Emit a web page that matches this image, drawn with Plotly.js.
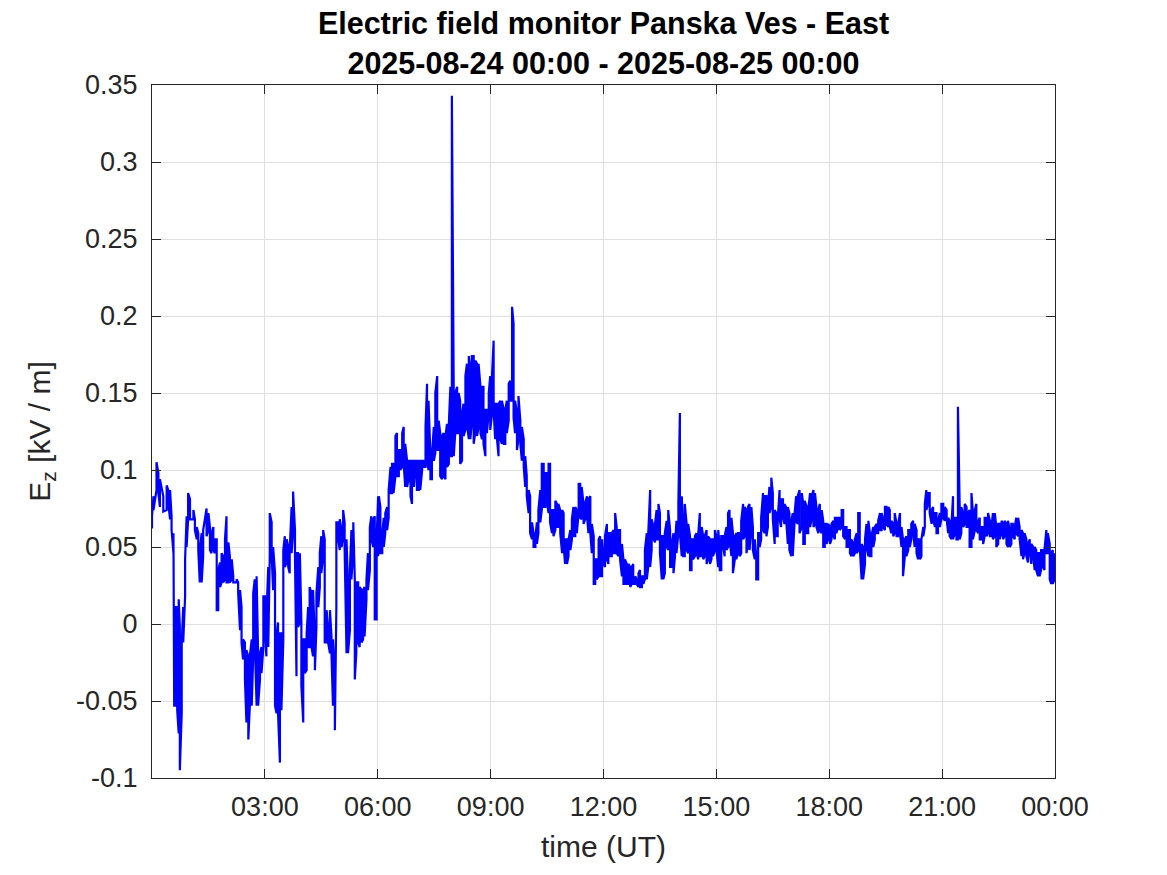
<!DOCTYPE html>
<html>
<head>
<meta charset="utf-8">
<script src="https://cdn.plot.ly/plotly-3.0.1.min.js"></script>
<style>html,body{margin:0;padding:0;background:#fff}#chart{width:1167px;height:875px}</style>
</head>
<body>
<div id="chart"></div>
<script>
// Time of day (hours UT) of each reading column
const hours = [0.00,0.04,0.12,0.17,0.21,0.30,0.39,0.43,0.48,0.52,0.57,0.59,0.63,0.67,0.71,0.74,0.79,0.83,0.88,0.92,0.96,1.01,1.10,1.14,1.19,1.23,1.27,1.32,1.36,1.45,1.50,1.54,1.58,1.63,1.67,1.72,1.76,1.81,1.85,1.89,1.94,1.98,2.03,2.07,2.12,2.16,2.25,2.29,2.34,2.38,2.42,2.47,2.51,2.56,2.60,2.65,2.69,2.73,2.78,2.82,2.87,2.91,2.96,3.00,3.04,3.09,3.13,3.18,3.22,3.27,3.31,3.35,3.40,3.44,3.49,3.53,3.58,3.62,3.66,3.71,3.75,3.80,3.84,3.88,3.93,3.97,4.02,4.06,4.11,4.15,4.19,4.24,4.28,4.33,4.37,4.42,4.46,4.50,4.55,4.59,4.64,4.68,4.73,4.77,4.81,4.86,4.90,4.95,4.99,5.04,5.08,5.12,5.17,5.21,5.26,5.30,5.35,5.39,5.43,5.48,5.52,5.57,5.61,5.65,5.70,5.74,5.79,5.83,5.88,5.92,5.97,6.01,
6.03,6.07,6.12,6.16,6.20,6.25,6.29,6.34,6.38,6.42,6.47,6.51,6.56,6.60,6.65,6.69,6.73,6.78,6.82,6.87,6.91,6.96,7.00,7.04,7.09,7.13,7.18,7.22,7.27,7.31,7.35,7.40,7.44,7.49,7.53,7.58,7.62,7.66,7.71,7.75,7.80,7.84,7.89,7.93,7.97,8.02,8.06,8.11,8.15,8.19,8.24,8.28,8.33,8.37,8.42,8.46,8.50,8.55,8.59,8.64,8.68,8.73,8.77,8.81,8.86,8.90,8.95,8.99,9.04,9.08,9.12,9.17,9.21,9.26,9.30,9.35,9.39,9.43,9.48,9.52,9.57,9.61,9.65,9.70,9.74,9.79,9.83,9.88,9.92,9.96,10.01,10.05,10.10,10.14,10.19,10.23,10.27,10.32,10.36,10.41,10.45,10.50,10.54,10.58,10.63,10.67,10.72,10.76,10.80,10.85,
10.90,10.94,10.98,11.03,11.07,11.12,11.16,11.20,11.25,11.29,11.34,11.38,11.42,11.47,11.51,11.56,11.60,11.65,11.69,11.74,11.78,11.82,11.87,11.91,11.96,12.00,12.04,12.09,12.13,12.18,12.22,12.27,12.31,12.35,12.40,12.44,12.49,12.53,12.57,12.62,12.66,12.71,12.75,12.79,12.84,12.88,12.93,12.97,13.02,13.06,13.10,13.15,13.19,13.24,13.28,13.33,13.37,13.41,13.46,13.50,13.55,13.59,13.63,13.68,13.72,13.77,13.81,13.86,13.90,13.94,13.99,14.03,14.08,14.12,14.16,14.21,14.25,14.30,14.34,14.38,14.43,14.47,14.52,14.56,14.61,14.65,14.69,14.74,14.78,14.83,14.87,14.91,14.96,15.00,15.05,15.09,15.13,15.18,15.22,15.27,15.31,15.35,15.40,15.44,15.49,15.53,15.57,15.62,15.66,15.71,15.75,15.80,15.84,15.88,15.93,15.97,16.02,16.06,16.11,16.15,16.19,16.24,16.28,16.33,16.37,16.41,16.46,16.50,16.55,16.59,16.63,16.68,16.72,16.77,16.81,16.85,16.90,16.94,16.99,17.03,17.08,17.12,17.16,17.21,
17.27,17.31,17.35,17.40,17.44,17.49,17.53,17.58,17.62,17.66,17.71,17.75,17.80,17.84,17.88,17.93,17.97,18.02,18.06,18.11,18.15,18.19,18.24,18.28,18.33,18.37,18.42,18.46,18.50,18.55,18.59,18.64,18.68,18.73,18.77,18.81,18.86,18.90,18.95,18.99,19.04,19.08,19.12,19.17,19.21,19.26,19.30,19.35,19.39,19.43,19.48,19.52,19.57,19.61,19.65,19.70,19.74,19.79,19.83,19.88,19.92,19.96,20.01,20.05,20.10,20.14,20.18,20.23,20.27,20.32,20.36,20.41,20.45,20.50,20.54,20.58,20.63,20.67,20.72,20.76,20.81,20.85,20.89,20.94,20.98,21.03,21.07,21.12,21.16,21.20,21.25,21.29,21.34,21.38,21.42,21.47,21.51,21.56,21.60,21.65,21.69,21.73,21.78,21.82,21.87,21.91,21.96,22.00,22.04,22.09,22.13,22.18,22.22,22.27,22.31,22.35,22.40,22.44,22.49,22.53,22.58,22.62,22.66,22.71,22.75,22.80,22.84,22.88,22.93,22.97,23.02,23.06,23.11,23.15,23.19,23.24,23.28,23.33,23.37,23.42,23.46,23.50,23.55,23.59,23.63,23.68,23.72,23.77,23.81,23.86,23.90,23.94,23.99];

// Lowest Ez reading in each column (kV/m)
const eLow = [0.062,0.074,0.087,0.085,0.076,0.073,0.074,0.079,0.068,0.061,0.046,-0.053,-0.053,-0.056,-0.071,-0.095,-0.058,-0.012,0.018,0.050,0.068,0.068,0.068,0.061,0.055,0.048,0.027,0.027,0.044,0.057,0.061,0.048,0.046,0.048,0.046,0.009,0.009,0.024,0.027,0.027,0.029,0.027,0.027,0.027,0.029,0.027,0.027,0.020,-0.004,-0.012,-0.023,-0.036,-0.064,-0.075,-0.053,-0.053,-0.021,-0.010,-0.053,-0.053,-0.036,-0.032,-0.015,-0.002,-0.021,-0.015,0.044,0.044,0.022,-0.053,-0.058,-0.058,-0.090,-0.056,-0.010,0.037,0.040,0.037,0.033,0.046,0.059,0.044,-0.034,-0.002,0.001,-0.040,-0.064,-0.032,-0.030,-0.015,-0.015,-0.015,-0.021,-0.030,-0.002,0.011,0.024,0.033,0.044,-0.012,-0.012,-0.012,-0.019,-0.019,-0.053,-0.069,0.011,0.055,0.048,0.050,0.057,0.048,-0.019,-0.019,-0.004,0.029,0.048,-0.036,-0.019,-0.012,-0.015,-0.012,-0.010,-0.008,0.016,0.022,0.035,0.055,0.050,0.003,0.003,0.044,
0.044,0.046,0.046,0.050,0.059,0.061,0.069,0.085,0.085,0.085,0.096,0.096,0.096,0.100,0.102,0.104,0.089,0.089,0.094,0.083,0.078,0.089,0.100,0.087,0.087,0.087,0.100,0.102,0.102,0.106,0.100,0.094,0.094,0.106,0.111,0.113,0.113,0.096,0.094,0.096,0.094,0.102,0.104,0.109,0.109,0.109,0.124,0.124,0.124,0.104,0.106,0.122,0.126,0.130,0.120,0.120,0.130,0.117,0.124,0.122,0.128,0.124,0.120,0.117,0.109,0.124,0.137,0.126,0.137,0.139,0.120,0.120,0.109,0.120,0.117,0.117,0.117,0.124,0.132,0.145,0.145,0.134,0.124,0.113,0.120,0.117,0.106,0.102,0.089,0.083,0.072,0.059,0.055,0.050,0.050,0.052,0.059,0.066,0.074,0.076,0.076,0.078,0.072,0.066,0.059,0.057,0.061,0.063,0.063,0.059,
0.046,0.050,0.039,0.039,0.044,0.048,0.055,0.057,0.057,0.059,0.072,0.069,0.068,0.065,0.068,0.070,0.059,0.059,0.046,0.026,0.026,0.029,0.031,0.031,0.031,0.039,0.037,0.042,0.039,0.044,0.044,0.046,0.046,0.046,0.044,0.042,0.031,0.026,0.026,0.026,0.026,0.024,0.026,0.026,0.026,0.026,0.024,0.024,0.024,0.026,0.029,0.029,0.037,0.037,0.048,0.055,0.053,0.055,0.055,0.046,0.029,0.029,0.033,0.050,0.048,0.037,0.037,0.033,0.044,0.046,0.059,0.059,0.044,0.044,0.044,0.048,0.046,0.035,0.035,0.042,0.044,0.046,0.042,0.044,0.044,0.042,0.044,0.039,0.042,0.039,0.042,0.044,0.048,0.048,0.037,0.035,0.035,0.050,0.044,0.048,0.050,0.055,0.044,0.033,0.042,0.042,0.046,0.044,0.046,0.055,0.057,0.046,0.052,0.048,0.061,0.048,0.042,0.029,0.029,0.050,0.055,0.061,0.059,0.057,0.063,0.072,0.076,0.068,0.052,0.057,0.057,0.068,0.063,0.069,0.065,0.069,0.052,0.048,0.044,0.044,0.067,0.067,0.065,0.059,
0.063,0.052,0.052,0.059,0.059,0.063,0.068,0.063,0.065,0.063,0.059,0.061,0.059,0.050,0.050,0.052,0.055,0.052,0.055,0.057,0.055,0.059,0.063,0.061,0.063,0.057,0.055,0.050,0.050,0.046,0.044,0.044,0.046,0.046,0.048,0.050,0.029,0.029,0.039,0.050,0.044,0.044,0.044,0.050,0.055,0.059,0.059,0.061,0.061,0.063,0.061,0.065,0.063,0.063,0.059,0.057,0.059,0.057,0.057,0.059,0.050,0.031,0.044,0.044,0.048,0.050,0.055,0.059,0.050,0.046,0.042,0.042,0.044,0.057,0.063,0.074,0.078,0.072,0.065,0.068,0.063,0.059,0.059,0.063,0.068,0.069,0.067,0.068,0.059,0.057,0.055,0.055,0.059,0.055,0.055,0.055,0.059,0.063,0.065,0.063,0.063,0.050,0.050,0.055,0.061,0.061,0.059,0.055,0.055,0.052,0.057,0.057,0.059,0.057,0.057,0.055,0.057,0.050,0.052,0.055,0.059,0.055,0.057,0.052,0.050,0.050,0.052,0.057,0.055,0.059,0.057,0.055,0.044,0.042,0.046,0.044,0.040,0.046,0.039,0.044,0.035,0.035,0.031,0.031,0.035,0.037,0.035,0.046,0.046,0.029,0.026,0.026,0.029];

// Highest Ez reading in each column (kV/m)
const eHigh = [0.070,0.083,0.105,0.098,0.094,0.083,0.090,0.087,0.087,0.070,0.059,0.031,0.011,0.011,0.016,-0.002,-0.012,0.011,0.042,0.070,0.085,0.081,0.074,0.068,0.063,0.059,0.048,0.059,0.061,0.075,0.072,0.063,0.059,0.063,0.055,0.055,0.035,0.040,0.046,0.044,0.055,0.070,0.053,0.044,0.042,0.031,0.029,0.027,0.022,0.011,-0.010,-0.012,-0.017,-0.021,-0.021,-0.010,0.020,0.029,0.031,-0.019,-0.019,-0.015,0.018,0.018,0.005,0.037,0.072,0.066,0.050,0.033,-0.008,0.001,-0.006,-0.006,0.048,0.057,0.055,0.050,0.048,0.076,0.086,0.061,0.046,0.046,0.046,0.001,-0.010,-0.010,-0.006,0.011,0.024,0.020,0.022,-0.010,0.020,0.037,0.046,0.057,0.061,0.055,0.009,-0.002,0.009,-0.008,-0.010,-0.032,0.066,0.066,0.068,0.061,0.074,0.066,0.055,0.024,0.035,0.061,0.066,0.029,0.027,0.027,0.024,0.022,0.022,0.024,0.029,0.046,0.063,0.070,0.068,0.070,0.055,0.083,
0.083,0.076,0.059,0.069,0.072,0.076,0.087,0.102,0.104,0.104,0.122,0.124,0.113,0.113,0.124,0.128,0.117,0.106,0.106,0.106,0.106,0.106,0.106,0.106,0.106,0.106,0.106,0.106,0.128,0.156,0.145,0.109,0.109,0.128,0.150,0.161,0.132,0.124,0.122,0.124,0.122,0.130,0.130,0.154,0.343,0.148,0.150,0.154,0.150,0.145,0.137,0.143,0.161,0.169,0.174,0.165,0.174,0.174,0.171,0.169,0.169,0.154,0.154,0.154,0.139,0.139,0.150,0.161,0.163,0.184,0.143,0.143,0.143,0.145,0.145,0.139,0.139,0.145,0.156,0.158,0.206,0.195,0.145,0.137,0.148,0.132,0.128,0.120,0.109,0.096,0.087,0.083,0.066,0.059,0.057,0.066,0.074,0.087,0.104,0.104,0.098,0.098,0.104,0.104,0.074,0.074,0.080,0.078,0.078,0.074,
0.074,0.072,0.055,0.055,0.055,0.061,0.068,0.076,0.076,0.074,0.091,0.091,0.089,0.078,0.078,0.083,0.081,0.083,0.065,0.057,0.042,0.042,0.055,0.057,0.055,0.044,0.057,0.065,0.059,0.059,0.059,0.061,0.072,0.063,0.061,0.061,0.052,0.042,0.042,0.039,0.039,0.037,0.037,0.039,0.031,0.029,0.033,0.035,0.031,0.031,0.048,0.059,0.059,0.087,0.068,0.063,0.065,0.074,0.078,0.072,0.057,0.057,0.059,0.067,0.074,0.061,0.052,0.059,0.052,0.067,0.078,0.137,0.083,0.061,0.078,0.065,0.065,0.057,0.055,0.055,0.057,0.059,0.059,0.072,0.063,0.057,0.057,0.061,0.057,0.055,0.055,0.055,0.061,0.057,0.061,0.050,0.057,0.057,0.057,0.063,0.072,0.074,0.069,0.059,0.057,0.059,0.059,0.059,0.067,0.078,0.076,0.074,0.076,0.078,0.076,0.063,0.055,0.044,0.059,0.059,0.069,0.085,0.083,0.083,0.076,0.089,0.095,0.085,0.074,0.072,0.068,0.087,0.081,0.081,0.078,0.076,0.076,0.072,0.067,0.072,0.072,0.083,0.083,0.087,
0.085,0.078,0.080,0.076,0.074,0.085,0.083,0.087,0.085,0.076,0.074,0.078,0.074,0.067,0.065,0.065,0.065,0.063,0.065,0.067,0.069,0.069,0.069,0.069,0.074,0.074,0.063,0.063,0.061,0.061,0.055,0.052,0.055,0.059,0.072,0.072,0.052,0.050,0.055,0.065,0.067,0.059,0.057,0.063,0.063,0.065,0.067,0.072,0.072,0.069,0.076,0.076,0.076,0.074,0.067,0.065,0.072,0.065,0.065,0.072,0.063,0.055,0.055,0.057,0.061,0.061,0.065,0.067,0.065,0.061,0.055,0.055,0.055,0.063,0.078,0.087,0.085,0.085,0.074,0.076,0.072,0.072,0.067,0.072,0.078,0.078,0.076,0.074,0.069,0.067,0.065,0.083,0.069,0.069,0.141,0.072,0.076,0.072,0.078,0.076,0.072,0.074,0.085,0.072,0.074,0.078,0.067,0.069,0.063,0.063,0.069,0.069,0.072,0.067,0.063,0.072,0.072,0.063,0.065,0.065,0.067,0.065,0.067,0.065,0.067,0.061,0.065,0.065,0.063,0.069,0.069,0.063,0.061,0.059,0.059,0.055,0.052,0.055,0.052,0.050,0.050,0.048,0.046,0.046,0.048,0.048,0.048,0.061,0.059,0.052,0.046,0.048,0.046];

// Axis ticks
const xTickVals = [3, 6, 9, 12, 15, 18, 21, 24];
const xTickText = ['03:00', '06:00', '09:00', '12:00', '15:00', '18:00', '21:00', '00:00'];
const yTickVals = [-0.1, -0.05, 0, 0.05, 0.1, 0.15, 0.2, 0.25, 0.3, 0.35];
const yTickText = ['-0.1', '-0.05', '0', '0.05', '0.1', '0.15', '0.2', '0.25', '0.3', '0.35'];

// Build the dense trace: each column drawn as a stroke between its low and high reading
const xs = [], ys = [];
for (let i = 0; i < hours.length; i++) {
  if (i % 2 === 0) { xs.push(hours[i], hours[i]); ys.push(eLow[i], eHigh[i]); }
  else { xs.push(hours[i], hours[i]); ys.push(eHigh[i], eLow[i]); }
}

const FONT = 'Liberation Sans, Arial, Helvetica, sans-serif';
const AX = '#262626';
const GRID = '#dfdfdf';

const trace = {
  x: xs, y: ys, type: 'scatter', mode: 'lines',
  line: {color: '#0000ff', width: 2.2},
  hoverinfo: 'skip', showlegend: false
};

const layout = {
  width: 1167, height: 875,
  margin: {l: 152, r: 112, t: 85, b: 97, pad: 0},
  paper_bgcolor: '#ffffff', plot_bgcolor: '#ffffff',
  font: {family: FONT, color: AX},
  title: {
    text: '<b>Electric field monitor Panska Ves - East</b><br><b>2025-08-24 00:00 - 2025-08-25 00:00</b>',
    font: {family: FONT, size: 30.5, color: '#000000'},
    x: 0.5, xref: 'paper', xanchor: 'center',
    y: 0.961, yref: 'container', yanchor: 'middle'
  },
  xaxis: {
    range: [0, 24], tickmode: 'array', tickvals: xTickVals, ticktext: xTickText,
    ticks: 'inside', ticklen: 9, tickwidth: 1, tickcolor: AX,
    showline: true, linecolor: AX, linewidth: 1, mirror: 'allticks',
    showgrid: true, gridcolor: GRID, gridwidth: 1, zeroline: false,
    tickfont: {family: FONT, size: 27, color: AX}, ticklabelstandoff: 5,
    title: {text: 'time (UT)', font: {family: FONT, size: 30, color: AX}, standoff: 14},
    automargin: false
  },
  yaxis: {
    range: [-0.1, 0.35], tickmode: 'array', tickvals: yTickVals, ticktext: yTickText,
    ticks: 'inside', ticklen: 9, tickwidth: 1, tickcolor: AX,
    showline: true, linecolor: AX, linewidth: 1, mirror: 'allticks',
    showgrid: true, gridcolor: GRID, gridwidth: 1, zeroline: false,
    tickfont: {family: FONT, size: 27, color: AX}, ticklabelstandoff: 8,
    title: {text: 'E<sub>z</sub> [kV / m]', font: {family: FONT, size: 30, color: AX}, standoff: 16},
    automargin: false
  }
};

Plotly.newPlot('chart', [trace], layout, {staticPlot: true, displayModeBar: false});
</script>
</body>
</html>
